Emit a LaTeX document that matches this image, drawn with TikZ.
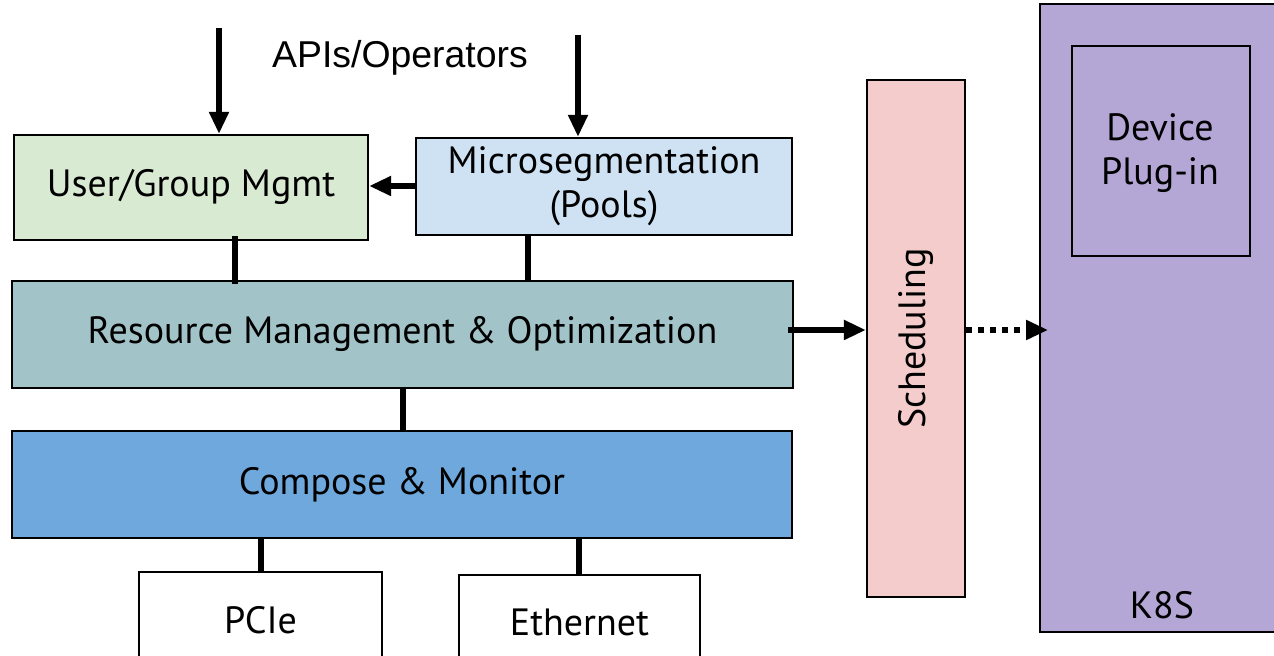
\documentclass[tikz,border=0pt]{standalone}
\usepackage{fontspec}
\setmainfont{PT Sans}
\newfontfamily\labelfont{Liberation Sans}
\usetikzlibrary{arrows.meta}
\definecolor{usergreen}{HTML}{D9EAD3}
\definecolor{microblue}{HTML}{CFE2F3}
\definecolor{resteal}{HTML}{A2C4C9}
\definecolor{composeblue}{HTML}{6FA8DC}
\definecolor{schedpink}{HTML}{F4CCCC}
\definecolor{k8spurple}{HTML}{B4A7D6}
\tikzset{
  txt/.style={font=\fontsize{19}{22}\selectfont},
  blk/.style={draw=black, line width=1.2pt, inner sep=0pt, align=center, txt},
  link/.style={line width=2.6pt},
  flow/.style={line width=2.6pt, -{Triangle[length=11pt,width=9.5pt]}},
}
\begin{document}
\begin{tikzpicture}[x=0.5pt,y=-0.5pt]
\useasboundingbox (0,0) rectangle (1274,656);
\fill[white] (0,0) rectangle (1274,656);

\node[blk, fill=usergreen, minimum width=177pt, minimum height=52.5pt] (user) at (191,187.5) {User/Group Mgmt};
\node[blk, fill=microblue, minimum width=188pt, minimum height=48.5pt] (micro) at (604,186.5) {Microsegmentation\\(Pools)};
\node[blk, fill=resteal, minimum width=390.5pt, minimum height=53.5pt] (res) at (402.5,334.5) {Resource Management \& Optimization};
\node[blk, fill=composeblue, minimum width=390pt, minimum height=53.5pt] (comp) at (402,484.5) {Compose \& Monitor};
\node[blk, fill=white, minimum width=121.5pt, minimum height=48pt] (pcie) at (260.5,620) {PCIe};
\node[blk, fill=white, minimum width=120.5pt, minimum height=47pt] (eth) at (579.5,622) {Ethernet};
\node[blk, fill=schedpink, minimum width=49pt, minimum height=258.5pt] (sched) at (916,338.5) {};
\node[txt, rotate=90] (schedtxt) at (sched.center) {Scheduling};
\node[blk, fill=k8spurple, minimum width=125pt, minimum height=314pt] (k8s) at (1165,318) {};
\node[txt] (k8stxt) at (1162,605) {K8S};
\node[blk, fill=k8spurple, minimum width=89pt, minimum height=105pt] (plug) at (1161,151) {};
\node[txt, align=center] (plugtxt) at (1160,153) {Device\\Plug-in};

\node[font=\labelfont\fontsize{18.7}{22}\selectfont] (api) at (400,58) {APIs/Operators};
\coordinate (apiL) at (219,28);
\coordinate (apiR) at (578,35);

\draw[flow] (apiL) -- (apiL |- user.north);
\draw[flow] (apiR) -- (apiR |- micro.north);
\draw[flow] (micro.west |- 0,186) -- (user.east |- 0,186);
\draw[link] (235,236) -- (235,284);
\draw[link] (528,235) -- (528,281);
\draw[link] (res.south -| 403,0) -- (comp.north -| 403,0);
\draw[link] (comp.south -| 261,0) -- (pcie.north -| 261,0);
\draw[link] (comp.south -| 579,0) -- (eth.north -| 579,0);
\draw[flow] (788,330) -- (sched.west |- 0,330);
\draw[flow, dash pattern=on 3pt off 3pt] (sched.east |- 0,330) -- (1048,330);
\end{tikzpicture}
\end{document}
